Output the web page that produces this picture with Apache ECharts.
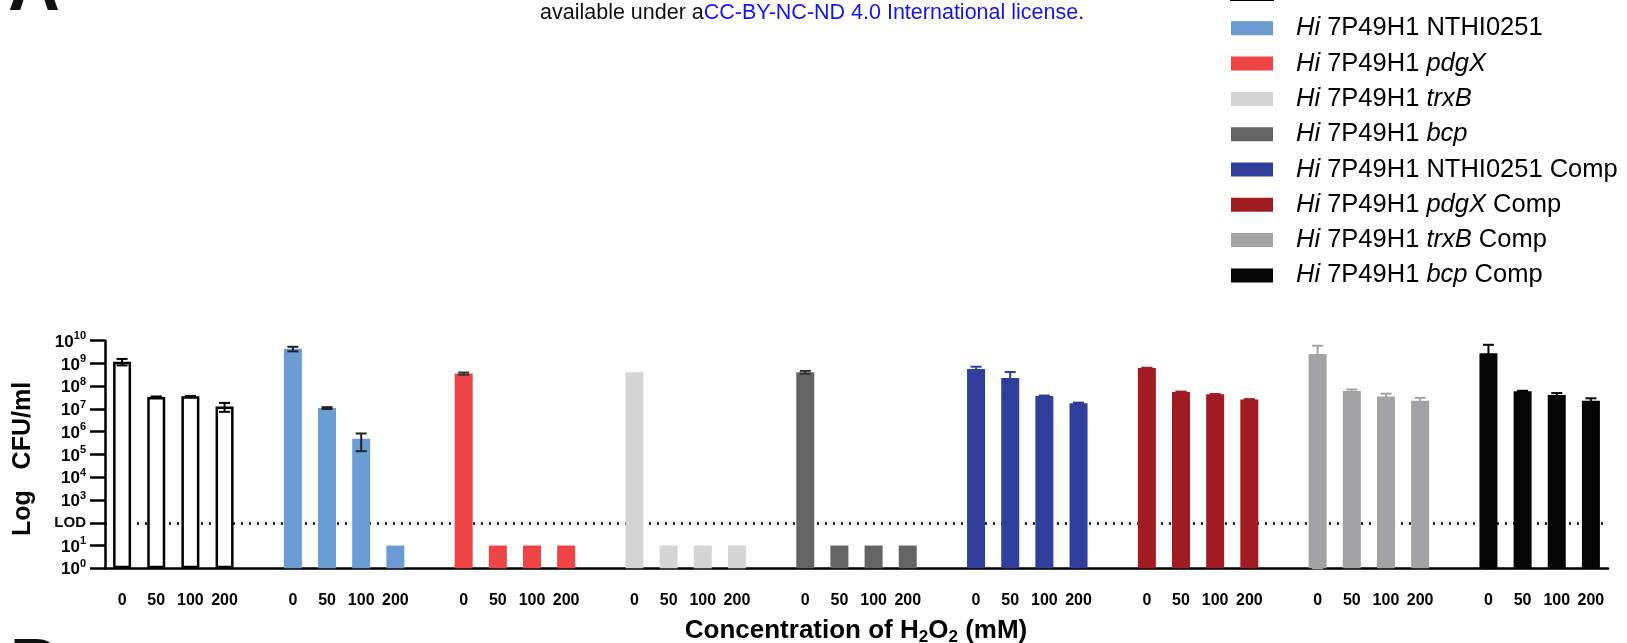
<!DOCTYPE html>
<html><head><meta charset="utf-8">
<script src="https://cdn.jsdelivr.net/npm/echarts@6/dist/echarts.min.js"></script>
<style>html,body{margin:0;padding:0;background:#fff}#c{width:1627px;height:643px}</style>
</head><body><div id="c"></div>
<script>
// ---- data ----
const concentrations = ['0', '50', '100', '200'];
const strains = ['Hi 7P49H1', 'Hi 7P49H1 NTHI0251', 'Hi 7P49H1 pdgX', 'Hi 7P49H1 trxB', 'Hi 7P49H1 bcp',
  'Hi 7P49H1 NTHI0251 Comp', 'Hi 7P49H1 pdgX Comp', 'Hi 7P49H1 trxB Comp', 'Hi 7P49H1 bcp Comp'];
const italicWords = ['Hi', 'pdgX', 'trxB', 'bcp'];
const colors = ['#ffffff', '#6a9bd3', '#ee4446', '#d5d5d5', '#646464', '#2f3f9b', '#a11c22', '#a3a3a6', '#050505'];
const errColors = ['#000000', '#222222', '#333333', '#d5d5d5', '#333333', '#2f3f9b', '#a11c22', '#a3a3a6', '#050505'];

const meanWT        = [1.2e9, 3.4e7, 3.6e7, 1.3e7];
const meanNTHI0251  = [4.4e9, 1.1e7, 4.9e5, 10];
const meanPdgX      = [3.6e8, 10, 10, 10];
const meanTrxB      = [4.1e8, 10, 10, 10];
const meanBcp       = [4.1e8, 10, 10, 10];
const meanNTHIComp  = [5.7e8, 2.3e8, 3.7e7, 1.8e7];
const meanPdgXComp  = [6.3e8, 5.6e7, 4.4e7, 2.6e7];
const meanTrxBComp  = [2.6e9, 6.2e7, 3.5e7, 2.3e7];
const meanBcpComp   = [2.8e9, 6.0e7, 4.1e7, 2.3e7];

const sdWT          = [3.8e8, 1.5e6, 1.5e6, 5.5e6];
const sdNTHI0251    = [1.0e9, 1.0e6, 3.5e5, 0];
const sdPdgX        = [4.0e7, 0, 0, 0];
const sdTrxB        = [0, 0, 0, 0];
const sdBcp         = [6.0e7, 0, 0, 0];
const sdNTHIComp    = [1.5e8, 1.9e8, 2.0e6, 1.0e6];
const sdPdgXComp    = [2.0e7, 2.0e6, 1.0e6, 1.0e6];
const sdTrxBComp    = [3.4e9, 1.0e7, 1.2e7, 8.0e6];
const sdBcpComp     = [3.8e9, 3.0e6, 9.0e6, 6.5e6];

const lodValue = 100;
const lodLabel = 'LOD';

const means = [meanWT, meanNTHI0251, meanPdgX, meanTrxB, meanBcp, meanNTHIComp, meanPdgXComp, meanTrxBComp, meanBcpComp];
const sds = [sdWT, sdNTHI0251, sdPdgX, sdTrxB, sdBcp, sdNTHIComp, sdPdgXComp, sdTrxBComp, sdBcpComp];

// ---- build ----
const FONT = 'Liberation Sans, Arial, Helvetica, sans-serif';
const slotsPerGroup = concentrations.length + 1;
const nSlots = strains.length * slotsPerGroup - 1;
const slotLabels = [];
strains.forEach((s, g) => {
  concentrations.forEach(c => slotLabels.push(c));
  if (g < strains.length - 1) slotLabels.push('');
});

const series = [];
const errData = [];
strains.forEach((name, g) => {
  const data = new Array(nSlots).fill('-');
  means[g].forEach((v, i) => {
    const slot = g * slotsPerGroup + i;
    data[slot] = v;
    const sd = sds[g][i];
    if (sd > 0) errData.push([slot, Math.max(1, v - sd), v + sd, g]);
  });
  series.push({
    type: 'bar', name, data, barWidth: 18, barGap: '-100%', z: 2,
    itemStyle: g === 0 ? { color: colors[g], borderColor: '#000', borderWidth: 2.5 } : { color: colors[g] }
  });
});

series.push({
  type: 'line', name: 'lod', data: [], z: 1, silent: true,
  markLine: {
    z: 1, silent: true, symbol: 'none', label: { show: false },
    lineStyle: { color: '#000', width: 2.5, type: [2, 6] },
    data: [{ yAxis: lodValue }]
  }
});

series.push({
  type: 'custom', name: 'err', z: 3, silent: true,
  data: errData,
  encode: { x: 0, y: [1, 2] },
  renderItem: (params, api) => {
    const x = api.value(0), lo = api.value(1), hi = api.value(2), g = api.value(3);
    const pHi = api.coord([x, hi]);
    const pLo = api.coord([x, lo]);
    const hw = 5.5;
    const style = { stroke: errColors[g], lineWidth: 2, fill: null };
    return {
      type: 'group', children: [
        { type: 'line', shape: { x1: pHi[0], y1: pHi[1], x2: pLo[0], y2: pLo[1] }, style },
        { type: 'line', shape: { x1: pHi[0] - hw, y1: pHi[1], x2: pHi[0] + hw, y2: pHi[1] }, style },
        { type: 'line', shape: { x1: pLo[0] - hw, y1: pLo[1], x2: pLo[0] + hw, y2: pLo[1] }, style }
      ]
    };
  }
});

function legendFmt(name) {
  return name.split(' ').map(w => italicWords.includes(w) ? '{i|' + w + '}' : '{n|' + w + '}').join('{n| }');
}

const LFS = 25.5, LLH = 28;
const chart = echarts.init(document.getElementById('c'), null, { renderer: 'canvas' });
chart.setOption({
  animation: false,
  backgroundColor: '#ffffff',
  textStyle: { fontFamily: FONT },
  grid: { left: 105, right: 19, top: 340.7, bottom: 74.7, containLabel: false },
  legend: {
    data: strains, orient: 'vertical', left: 1230, top: -21, padding: 0,
    itemWidth: 42, itemHeight: 14, itemGap: 7.3, icon: 'rect', selectedMode: false,
    formatter: legendFmt,
    textStyle: {
      fontFamily: FONT, fontSize: LFS, color: '#000', lineHeight: LLH, padding: [0, 0, 0, 18],
      rich: {
        i: { fontFamily: FONT, fontSize: LFS, fontStyle: 'italic', color: '#000', lineHeight: LLH },
        n: { fontFamily: FONT, fontSize: LFS, color: '#000', lineHeight: LLH }
      }
    }
  },
  xAxis: {
    type: 'category', data: slotLabels, boundaryGap: true,
    axisLine: { lineStyle: { color: '#000', width: 2.5 } },
    axisTick: { show: false },
    axisLabel: { interval: 0, color: '#000', fontFamily: FONT, fontSize: 16, fontWeight: 'bold', margin: 24 },
    splitLine: { show: false }
  },
  yAxis: {
    type: 'log', logBase: 10, min: 1, max: 1e10, interval: 1,
    axisLine: { show: true, lineStyle: { color: '#000', width: 2.5 } },
    axisTick: { show: true, length: 15, lineStyle: { color: '#000', width: 2.5 } },
    splitLine: { show: false },
    axisLabel: {
      color: '#000', margin: 19, align: 'right',
      formatter: v => {
        const k = Math.round(Math.log10(v));
        if (Math.abs(v - lodValue) < 1e-6 * lodValue) return '{l|' + lodLabel + '}';
        return '{b|10}{s|' + k + '}';
      },
      rich: {
        b: { fontFamily: FONT, fontSize: 17, fontWeight: 'bold', color: '#000', lineHeight: 20, verticalAlign: 'bottom' },
        s: { fontFamily: FONT, fontSize: 11, fontWeight: 'bold', color: '#000', lineHeight: 20, verticalAlign: 'top', padding: [0, 0, 7, 0] },
        l: { fontFamily: FONT, fontSize: 15, fontWeight: 'bold', color: '#000' }
      }
    }
  },
  graphic: [
    { type: 'text', left: 8, top: -46, silent: true,
      style: { text: 'A', font: 'bold 72px ' + FONT, fill: '#111' } },
    { type: 'text', x: 10, y: 633, silent: true,
      style: { text: 'B', font: 'bold 68px ' + FONT, fill: '#111', verticalAlign: 'top' } },
    { type: 'text', left: 540, top: 2, silent: true,
      style: {
        text: '{k|available under a}{u|CC-BY-NC-ND 4.0 International license}{k|.}',
        rich: {
          k: { fontFamily: FONT, fontSize: 21.5, fill: '#111', lineHeight: 24 },
          u: { fontFamily: FONT, fontSize: 21.5, fill: '#1515ee', lineHeight: 24 }
        }
      } },
    { type: 'text', x: 23, y: 459, rotation: Math.PI / 2, silent: true,
      style: { text: 'Log   CFU/ml', font: 'bold 25px ' + FONT, fill: '#000', align: 'center', verticalAlign: 'middle' } },
    { type: 'text', x: 856, y: 631, silent: true,
      style: {
        text: '{t|Concentration of H}{s|2}{t|O}{s|2}{t| (mM)}', align: 'center', verticalAlign: 'middle',
        rich: {
          t: { fontFamily: FONT, fontSize: 26, fontWeight: 'bold', fill: '#000', lineHeight: 30, verticalAlign: 'middle' },
          s: { fontFamily: FONT, fontSize: 17, fontWeight: 'bold', fill: '#000', lineHeight: 30, verticalAlign: 'bottom' }
        }
      } }
  ],
  series
});
</script></body></html>
